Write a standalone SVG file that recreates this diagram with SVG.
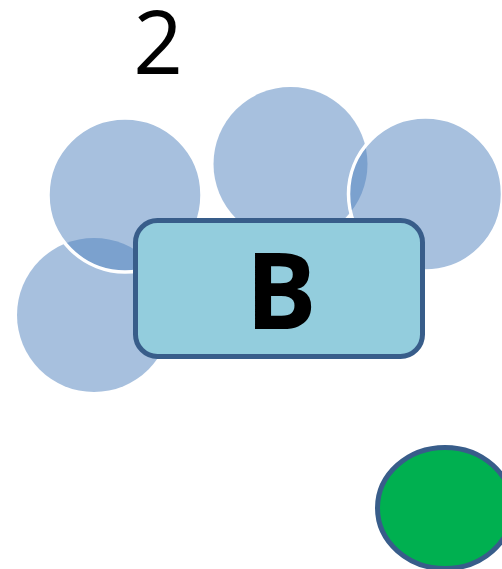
<svg xmlns="http://www.w3.org/2000/svg" width="502" height="569" viewBox="0 0 502 569">
<style>
.c{fill:#4F81BD;fill-opacity:0.5}
.cw{fill:#4F81BD;fill-opacity:0.5;stroke:#fff;stroke-width:3.5}
.t{font-family:"Open Sans","Liberation Sans",sans-serif;fill:#000}
</style>
<rect width="502" height="569" fill="#fff"/>
<text class="t" x="158" y="74" font-size="87" text-anchor="middle">2</text>
<g id="circles">
<circle class="c" cx="94" cy="315" r="77"/>
<circle class="c" cx="290.5" cy="164" r="77"/>
<circle class="cw" cx="125" cy="195" r="77"/>
<circle class="cw" cx="425.5" cy="194" r="77"/>
</g>
<g id="B">
<rect x="135.5" y="220.5" width="287" height="136" rx="22" fill="#93CDDD" stroke="#385D8A" stroke-width="5"/>
<text class="t" x="281" y="329" font-size="106" font-weight="bold" text-anchor="middle">B</text>
</g>
<g id="green">
<ellipse cx="445" cy="508" rx="67.5" ry="60.5" fill="#00B050" stroke="#385D8A" stroke-width="5"/>
</g>
<g id="connectors"/>
</svg>
